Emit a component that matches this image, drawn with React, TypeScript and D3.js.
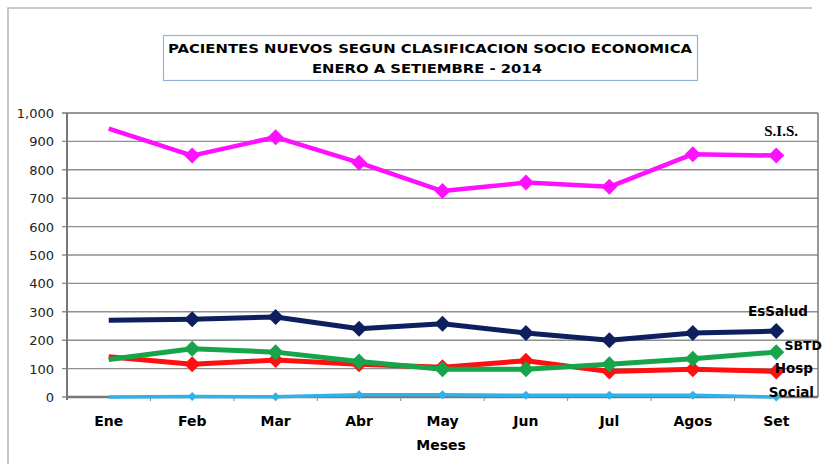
import React from 'react';
import * as d3 from 'd3';

const months = ['Ene', 'Feb', 'Mar', 'Abr', 'May', 'Jun', 'Jul', 'Agos', 'Set'];
const yTicks = [0, 100, 200, 300, 400, 500, 600, 700, 800, 900, 1000];

const sis = [945, 850, 915, 825, 725, 755, 740, 855, 850];
const essalud = [270, 274, 282, 240, 258, 225, 200, 225, 232];
const sbtd = [132, 170, 158, 125, 98, 98, 115, 135, 158];
const hosp = [142, 115, 130, 115, 105, 128, 90, 98, 90];
const social = [0, 2, 1, 8, 8, 6, 6, 6, 0];

const series = [
  { name: 'Social', values: social, color: '#2fb2ea', width: 3.5, r: 4.5 },
  { name: 'Hosp', values: hosp, color: '#ff1010', width: 5, r: 8 },
  { name: 'SBTD', values: sbtd, color: '#16a54a', width: 5, r: 8 },
  { name: 'EsSalud', values: essalud, color: '#0d1f5e', width: 5, r: 8 },
  { name: 'S.I.S.', values: sis, color: '#ff10ff', width: 4.5, r: 8 },
];

const W = 823, H = 464;
const left = 67, right = 818, top = 113, bottom = 397;

export default function App() {
  const x = d3.scalePoint<string>().domain(months).range([left, right]).padding(0.5);
  const y = d3.scaleLinear().domain([0, 1000]).range([bottom, top]);
  const step = x.step();
  const fmt = d3.format(',');
  const line = d3.line<number>()
    .x((d, i) => x(months[i]) as number)
    .y(d => y(d));
  const diamond = (r: number) => `M0,${-r}L${r},0L0,${r}L${-r},0Z`;

  return (
    <svg width={W} height={H} style={{ position: 'absolute', left: 0, top: 0, background: '#fff' }}
      fontFamily="'DejaVu Sans', Verdana, sans-serif">
      {/* outer frame */}
      <path d={`M8,${H}V8H812`} fill="none" stroke="#b8b8b8" strokeWidth={1.5} />

      {/* title */}
      <rect x={163.5} y={35.5} width={534} height={45} fill="#fff" stroke="#95b3d7" strokeWidth={1.2} />
      <text x={430} y={53} textAnchor="middle" fontSize={13} fontWeight="bold" fill="#000"
        textLength={524} lengthAdjust="spacingAndGlyphs">PACIENTES NUEVOS SEGUN CLASIFICACION SOCIO ECONOMICA</text>
      <text x={427} y={73} textAnchor="middle" fontSize={13} fontWeight="bold" fill="#000"
        textLength={230} lengthAdjust="spacingAndGlyphs">ENERO A SETIEMBRE  - 2014</text>

      {/* grid */}
      {yTicks.map(t => (
        <g key={t}>
          <line x1={left - 5} x2={right} y1={y(t)} y2={y(t)} stroke={t === 1000 ? '#777' : '#8e8e8e'} strokeWidth={1.4} />
          <text x={54} y={y(t) + 5} textAnchor="end" fontSize={13} fill="#222">{fmt(t)}</text>
        </g>
      ))}
      <line x1={right} x2={right} y1={top} y2={bottom} stroke="#777" strokeWidth={1.5} />
      <line x1={left} x2={left} y1={top} y2={bottom + 3} stroke="#777" strokeWidth={2} />
      <line x1={left} x2={right} y1={bottom} y2={bottom} stroke="#777" strokeWidth={2.5} />
      {months.map((m, i) => (
        <g key={m}>
          {i > 0 && (
            <line x1={(x(m) as number) - step / 2} x2={(x(m) as number) - step / 2} y1={bottom} y2={bottom + 4} stroke="#888" strokeWidth={1} />
          )}
          <text x={x(m)} y={426} textAnchor="middle" fontSize={14} fontWeight="bold" fill="#000">{m}</text>
        </g>
      ))}
      <text x={441} y={450} textAnchor="middle" fontSize={14} fontWeight="bold" fill="#000">Meses</text>

      {/* series */}
      {series.map(s => (
        <g key={s.name}>
          <path d={line(s.values) || ''} fill="none" stroke={s.color} strokeWidth={s.width} strokeLinejoin="round" />
          {s.values.map((v, i) => i === 0 ? null : (
            <path key={i} d={diamond(s.r)} transform={`translate(${x(months[i])},${y(v)})`} fill={s.color} />
          ))}
        </g>
      ))}

      {/* labels */}
      <text x={798} y={136} textAnchor="end" fontSize={15} fontWeight="bold" fill="#000"
        fontFamily="'Liberation Serif', serif">S.I.S.</text>
      <text x={808} y={316} textAnchor="end" fontSize={13.5} fontWeight="bold" fill="#000">EsSalud</text>
      <text x={822} y={350} textAnchor="end" fontSize={12.5} fontWeight="bold" fill="#000">SBTD</text>
      <text x={813} y={373} textAnchor="end" fontSize={13.5} fontWeight="bold" fill="#000">Hosp</text>
      <text x={814} y={397} textAnchor="end" fontSize={13.5} fontWeight="bold" fill="#000">Social</text>
    </svg>
  );
}
